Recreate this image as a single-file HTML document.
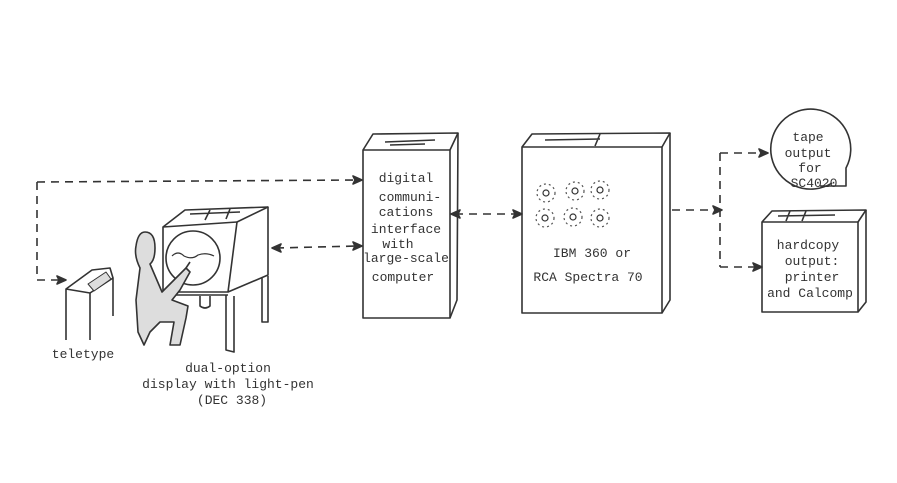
<!DOCTYPE html>
<html><head><meta charset="utf-8"><style>
html,body{margin:0;padding:0;background:#fff}
svg{display:block}
text{font-family:"Liberation Mono",monospace;font-size:13px;fill:#333;text-anchor:middle}
</style></head><body>
<svg width="897" height="483" viewBox="0 0 897 483" xmlns="http://www.w3.org/2000/svg">
<g fill="none" stroke="#333" stroke-width="1.6" stroke-linejoin="round">
<g stroke-dasharray="8,6">
<path d="M37 182 L358 180"/>
<path d="M37 182 L37 280 L62 280"/>
<path d="M276 248 L358 246"/>
<path d="M455 214 L518 214"/>
<path d="M672 210 L718 210"/>
<path d="M720 153 L720 267"/>
<path d="M720 153 L764 153"/>
<path d="M720 267 L758 267"/>
</g>
<g fill="#333">
<path d="M362 180 l-9 -4 l2 4 l-2 4z"/>
<path d="M66 280 l-9 -4 l2 4 l-2 4z"/>
<path d="M362 246 l-9 -4 l2 4 l-2 4z"/>
<path d="M272 248 l9 -4 l-2 4 l2 4z"/>
<path d="M522 214 l-9 -4 l2 4 l-2 4z"/>
<path d="M451 214 l9 -4 l-2 4 l2 4z"/>
<path d="M722 210 l-9 -4 l2 4 l-2 4z"/>
<path d="M768 153 l-9 -4 l2 4 l-2 4z"/>
<path d="M762 267 l-9 -4 l2 4 l-2 4z"/>
</g>
<!-- interface box -->
<path d="M363 150 L450 150 L450 318 L363 318 Z"/>
<path d="M363 150 L373 134 L458 133 L450 150"/>
<path d="M458 133 L457 300 L450 318"/>
<path d="M385 142 L435 140 M390 145 L425 144"/>
<!-- IBM box -->
<path d="M522 147 L662 147 L662 313 L522 313 Z"/>
<path d="M522 147 L532 134 L670 133 L662 147"/>
<path d="M670 133 L670 300 L662 313"/>
<path d="M545 140 L600 139 M600 134 L595 146"/>
<!-- hardcopy box -->
<path d="M762 222 L858 222 L858 312 L762 312 Z"/>
<path d="M762 222 L772 211 L866 210 L858 222"/>
<path d="M866 210 L866 302 L858 312"/>
<path d="M778 216 L835 215 M790 211 L786 221 M806 211 L802 221"/>
<!-- tape -->
<path d="M832 183 A40 40 0 1 1 846 168 L846 186 L820 186"/>
<!-- teletype -->
<path d="M66 340 L66 289 L90 293 L113 278 L113 316"/>
<path d="M66 289 L92 270 L110 268 L113 278"/>
<path d="M90 293 L90 340"/>
<path d="M88 284 L106 272 L111 279 L94 291 Z" stroke-width="1" fill="#ddd"/>
<!-- display cabinet -->
<path d="M163 227 L237 222 L228 292 L163 292 Z"/>
<path d="M163 227 L185 210 L268 207 L237 222"/>
<path d="M268 207 L268 275 L228 292"/>
<path d="M190 214 L240 212 M210 210 L205 220 M230 209 L226 219"/>
<circle cx="193" cy="258" r="27"/>
<path d="M172 256 q6 -6 12 0 q8 4 14 -1 q8 -3 16 1" stroke-width="1.2"/>
<path d="M160 295 L228 295"/>
<path d="M226 295 L226 350 L234 352 L234 296"/>
<path d="M262 278 L262 322 L268 322 L268 276"/>
<path d="M200 296 L200 306 q5 4 10 0 L210 296"/>
<!-- person -->
<path d="M145 232 q10 0 10 16 q0 12 -5 16 L162 292 L172 282 L186 268 L190 272 L180 290 L172 300 L188 306 L186 318 L180 345 L170 345 L174 322 L160 322 L150 332 L144 345 L138 332 L136 300 L140 268 Q134 256 136 246 Q138 232 145 232Z" fill="#ddd"/>
<path d="M186 268 L190 262"/>
<g stroke-width="1.2">
<circle cx="546" cy="193" r="3"/><circle cx="575" cy="191" r="3"/><circle cx="600" cy="190" r="3"/>
<circle cx="545" cy="218" r="3"/><circle cx="573" cy="217" r="3"/><circle cx="600" cy="218" r="3"/>
</g>
</g>
<g stroke="#555" stroke-width="1.2" stroke-dasharray="2,3" fill="none">
<circle cx="546" cy="193" r="9"/><circle cx="575" cy="191" r="9"/><circle cx="600" cy="190" r="9"/>
<circle cx="545" cy="218" r="9"/><circle cx="573" cy="217" r="9"/><circle cx="600" cy="218" r="9"/>
</g>
<text x="406" y="182">digital</text>
<text x="410" y="201">communi-</text>
<text x="406" y="216">cations</text>
<text x="406" y="233">interface</text>
<text x="398" y="248">with</text>
<text x="406" y="262">large-scale</text>
<text x="403" y="281">computer</text>
<text x="592" y="257">IBM 360 or</text>
<text x="588" y="281">RCA Spectra 70</text>
<text x="808" y="141">tape</text>
<text x="808" y="157">output</text>
<text x="810" y="172">for</text>
<text x="814" y="187">SC4020</text>
<text x="808" y="249">hardcopy</text>
<text x="812" y="265">output:</text>
<text x="812" y="281">printer</text>
<text x="810" y="297">and Calcomp</text>
<text x="83" y="358">teletype</text>
<text x="228" y="372">dual-option</text>
<text x="228" y="388">display with light-pen</text>
<text x="232" y="404">(DEC 338)</text>
</svg>
</body></html>
